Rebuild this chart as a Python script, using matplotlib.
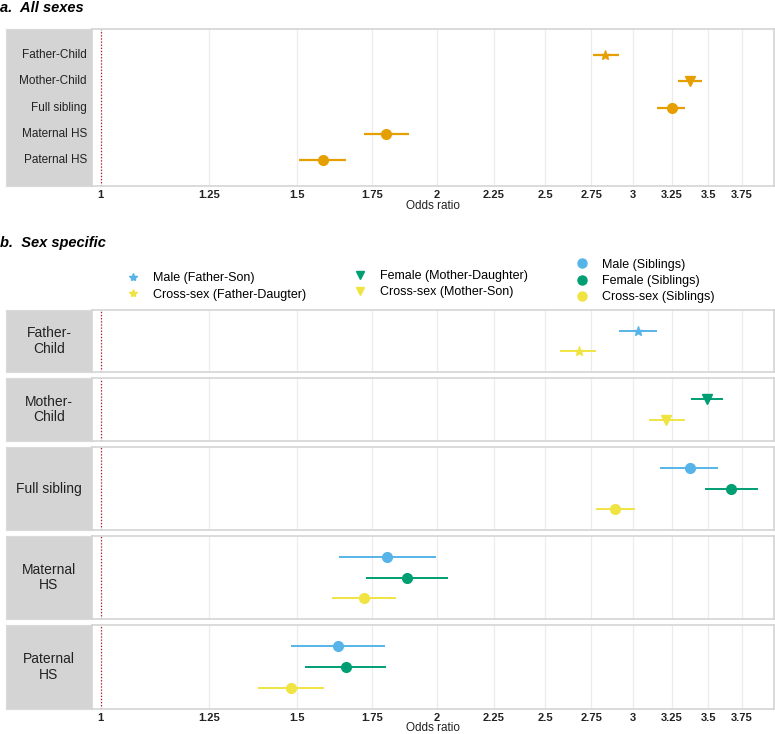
import matplotlib.pyplot as plt
import matplotlib.transforms as mtrans
from matplotlib.lines import Line2D

plt.rcParams['font.family'] = ['Liberation Sans', 'DejaVu Sans']

# ---- panel a: all sexes ----
rel_all = ['Father-Child', 'Mother-Child', 'Full sibling', 'Maternal HS', 'Paternal HS']
or_all = [2.83, 3.37, 3.25, 1.80, 1.58]
lo_all = [2.76, 3.29, 3.15, 1.72, 1.505]
hi_all = [2.91, 3.46, 3.34, 1.89, 1.66]
mk_all = ['*', 'v', 'o', 'o', 'o']

# ---- panel b: sex specific ----
facet_labels = ['Father-\nChild', 'Mother-\nChild', 'Full sibling', 'Maternal\nHS', 'Paternal\nHS']
facet_groups = [['male', 'cross'], ['female', 'cross'],
                ['male', 'female', 'cross'], ['male', 'female', 'cross'], ['male', 'female', 'cross']]
facet_or = [[3.03, 2.68], [3.49, 3.21], [3.37, 3.67, 2.89], [1.805, 1.88, 1.72], [1.63, 1.657, 1.479]]
facet_lo = [[2.91, 2.58], [3.38, 3.10], [3.17, 3.48, 2.78], [1.634, 1.73, 1.612], [1.48, 1.523, 1.382]]
facet_hi = [[3.15, 2.78], [3.61, 3.34], [3.57, 3.88, 3.01], [1.995, 2.045, 1.837], [1.797, 1.80, 1.584]]
facet_mk = ['*', 'v', 'o', 'o', 'o']

ticks = [1, 1.25, 1.5, 1.75, 2, 2.25, 2.5, 2.75, 3, 3.25, 3.5, 3.75]
tick_labels = ['1', '1.25', '1.5', '1.75', '2', '2.25', '2.5', '2.75', '3', '3.25', '3.5', '3.75']

colors = {'male': '#56B4E9', 'female': '#009E73', 'cross': '#F0E442'}
orange = '#E69F00'

W, H = 775, 734
fig = plt.figure(figsize=(W / 100, H / 100), dpi=100)


def box(x0, y0, x1, y1):
    return [x0 / W, 1 - y1 / H, (x1 - x0) / W, (y1 - y0) / H]


def make_panel(top, bot, nrows, show_x):
    strip = fig.add_axes(box(6, top, 92, bot))
    strip.set_facecolor('#d4d4d4')
    strip.set_xticks([])
    strip.set_yticks([])
    strip.set_ylim(nrows, -1)
    for s in strip.spines.values():
        s.set_color('#dadada')
    ax = fig.add_axes(box(92, top, 774, bot))
    ax.set_xscale('log')
    ax.set_xlim(0.982, 4.01)
    ax.set_ylim(nrows, -1)
    ax.set_xticks(ticks)
    ax.set_xticklabels(tick_labels if show_x else [])
    ax.minorticks_off()
    ax.set_yticks([])
    ax.tick_params(axis='x', length=0, pad=3, labelsize=8, labelcolor='#222222')
    for lab in ax.get_xticklabels():
        lab.set_fontweight('bold')
    ax.grid(axis='x', color='#ececec', lw=0.9)
    ax.set_axisbelow(True)
    for s in ax.spines.values():
        s.set_color('#d4d4d4')
        s.set_linewidth(1.2)
    ax.axvline(1, color='#b2182b', ls=(0, (1, 1.5)), lw=0.9)
    return strip, ax


# panel a
fig.text(0 / W, 1 - 8 / H, 'a.  All sexes', fontsize=10.5, fontweight='bold',
         fontstyle='italic', va='center', ha='left')
strip, ax = make_panel(29, 186, len(rel_all), True)
tr = mtrans.blended_transform_factory(strip.transAxes, strip.transData)
for i, name in enumerate(rel_all):
    strip.text(0.94, i, name, transform=tr, ha='right', va='center', fontsize=8.5, color='#222222')
    ax.plot([lo_all[i], hi_all[i]], [i, i], color=orange, lw=1.6, solid_capstyle='butt')
    ax.plot(or_all[i], i, marker=mk_all[i], color=orange, ms=7 if mk_all[i] == 'o' else 6.5, lw=0)
ax.set_xlabel('Odds ratio', fontsize=8.5, labelpad=0, color='#222222')

# panel b
fig.text(0 / W, 1 - 243 / H, 'b.  Sex specific', fontsize=10.5, fontweight='bold',
         fontstyle='italic', va='center', ha='left')
facet_px = [(310, 372), (378, 441), (447, 530), (536, 619), (625, 709)]
for k, (top, bot) in enumerate(facet_px):
    grp = facet_groups[k]
    strip, ax = make_panel(top, bot, len(grp), k == len(facet_px) - 1)
    strip.text(0.5, 0.5, facet_labels[k], transform=strip.transAxes, ha='center',
               va='center', fontsize=10, color='#222222', linespacing=1.1)
    for i, g in enumerate(grp):
        ax.plot([facet_lo[k][i], facet_hi[k][i]], [i, i], color=colors[g], lw=1.4,
                solid_capstyle='butt')
        ax.plot(facet_or[k][i], i, marker=facet_mk[k], color=colors[g],
                ms=7 if facet_mk[k] == 'o' else 6.5, lw=0)
    if k == len(facet_px) - 1:
        ax.set_xlabel('Odds ratio', fontsize=8.5, labelpad=-1, color='#222222')

# legends
def handle(m, c):
    return Line2D([], [], marker=m, color=c, lw=0, ms=6.5 if m == 'o' else 6)

leg_specs = [
    ([('*', 'male', 'Male (Father-Son)'), ('*', 'cross', 'Cross-sex (Father-Daugter)')], 127, 286.5),
    ([('v', 'female', 'Female (Mother-Daughter)'), ('v', 'cross', 'Cross-sex (Mother-Son)')], 354, 284),
    ([('o', 'male', 'Male (Siblings)'), ('o', 'female', 'Female (Siblings)'),
      ('o', 'cross', 'Cross-sex (Siblings)')], 576, 281),
]
for items, x0, yc in leg_specs:
    hs = [handle(m, colors[c]) for m, c, _ in items]
    ls = [t for _, _, t in items]
    fig.legend(hs, ls, loc='center left', bbox_to_anchor=(x0 / W, 1 - yc / H),
               frameon=False, fontsize=9, handlelength=1, handletextpad=1.1,
               labelspacing=0.33, borderpad=0, borderaxespad=0)

fig.savefig('out.png', dpi=100)
